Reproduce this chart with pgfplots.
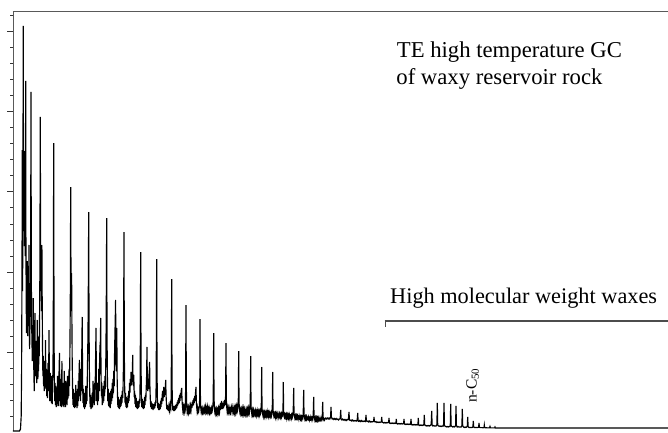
\documentclass[border=0pt]{standalone}
\usepackage{pgfplots}
\pgfplotsset{compat=1.18}
\usepackage{fontspec}
\setmainfont{Liberation Serif}
\begin{document}
\begin{tikzpicture}
\useasboundingbox (-13pt,-1pt) rectangle (655pt,431pt);
\begin{axis}[
  x=1pt, y=1pt,
  xmin=13, xmax=668, ymin=0, ymax=420,
  axis y line*=left, axis x line*=top,
  axis line style={-, draw=black!65, line width=0.9pt},
  xtick=\empty,
  ytick={78.58,158.93,239.28,319.63,399.98},
  minor ytick={14.3,30.37,46.44,62.51,94.65,110.72,126.79,142.86,175.0,191.07,207.14,223.21,255.35,271.42,287.49,303.56,335.7,351.77,367.84,383.91,416.05},
  yticklabels={},
  tick align=outside,
  major tick length=5.5pt, minor tick length=2.5pt,
  tick style={black!80, line width=0.6pt},
  clip=false,
]
\addplot[black, line width=1.15pt, line join=miter] coordinates {
(13,0) (19.5,0) (20.5,2) (21.2,15) (21.6,60) (22.0,160) (22.3,281) (22.6,140) (22.9,230) (23.1,330) (23.3,405) (23.5,250) (23.7,200) (23.9,260) (24.1,230) (24.3,280) (24.5,185) (24.7,240) (24.9,200) (25.1,255) (25.3,175) (25.5,230) (25.7,350) (25.9,200) (26.1,150) (26.3,120) (26.5,98) (26.7,140) (26.9,125) (27.2,170) (27.5,110) (27.8,95) (28.1,130) (28.4,105) (28.7,150) (29.0,186) (29.3,115) (29.6,82) (29.9,100) (30.3,125) (30.6,150) (31.0,339) (31.3,160) (31.6,110) (32.0,88) (32.3,70) (32.6,95) (33.0,75) (33.3,133) (33.6,80) (33.9,55) (34.3,40) (34.6,75) (35.0,118) (35.3,70) (35.6,55) (36.0,90) (36.3,62) (36.7,48) (37.0,80) (37.3,111) (37.6,70) (37.9,52) (38.3,82) (38.6,60) (39.0,95) (39.3,75) (39.6,120) (39.9,160) (40.3,314) (40.6,180) (40.9,140) (41.2,160) (41.5,120) (41.9,186) (42.2,130) (42.5,85) (42.9,55) (43.2,75) (43.6,45) (44.0,70) (44.3,40) (44.7,60) (45.1,42) (45.5,91) (45.9,45) (46.3,62) (46.7,35) (47.1,55) (47.5,33) (47.9,68) (48.3,40) (48.7,60) (49.0,101) (49.4,50) (49.8,30) (50.2,58) (50.6,30) (51.0,52) (51.4,28) (51.8,55) (52.2,27) (52.6,48) (53.0,62) (53.3,120) (53.7,288) (54.0,110) (54.3,55) (54.7,30) (55.1,48) (55.5,26) (55.9,45) (56.3,24) (56.7,42) (57.1,25) (57.5,55) (57.9,27) (58.3,48) (58.7,25) (59.1,62) (59.5,78) (59.9,30) (60.3,52) (60.7,25) (61.1,45) (61.5,24) (61.9,70) (62.3,32) (62.7,48) (63.1,25) (63.5,40) (63.9,24) (64.3,60) (64.7,28) (65.1,42) (65.5,24) (65.9,50) (66.3,28) (66.7,38) (67.1,26) (67.5,55) (67.9,32) (68.3,50) (68.7,35) (69.1,62) (69.5,45) (69.9,80) (70.3,130) (70.7,244) (71.0,150) (71.3,120) (71.6,158) (71.9,110) (72.2,70) (72.6,40) (73.0,26) (73.4,42) (73.8,24) (74.2,38) (74.6,23) (75.0,36) (75.4,24) (75.8,46) (76.2,26) (76.6,34) (77.0,23) (77.4,42) (77.8,25) (78.2,50) (78.6,30) (79.0,55) (79.4,71) (79.8,35) (80.2,60) (80.6,30) (81.0,62) (81.4,40) (81.8,80) (82.2,114) (82.6,50) (83.0,28) (83.4,42) (83.8,24) (84.2,38) (84.6,22) (85.0,35) (85.4,24) (85.8,45) (86.2,27) (86.6,40) (87.0,30) (87.4,60) (87.8,85) (88.2,120) (88.7,219) (89.0,110) (89.4,60) (89.8,35) (90.2,24) (90.6,36) (91.0,22) (91.4,34) (91.8,23) (92.2,38) (92.6,24) (93.0,50) (93.4,28) (93.8,42) (94.2,26) (94.6,48) (95.0,30) (95.4,60) (95.7,80) (96.0,103) (96.4,50) (96.8,30) (97.2,45) (97.6,26) (98.0,48) (98.4,30) (98.8,62) (99.2,40) (99.6,70) (100.0,85) (100.4,90) (100.7,113) (101.0,60) (101.4,35) (101.8,48) (102.2,26) (102.6,42) (103.0,28) (103.4,45) (103.8,30) (104.2,50) (104.6,35) (105.0,55) (105.4,42) (105.8,70) (106.2,110) (106.7,213) (107.0,100) (107.4,55) (107.8,30) (108.2,42) (108.6,25) (109.0,38) (109.4,24) (109.8,36) (110.2,23) (110.6,40) (111.0,27) (111.4,42) (111.8,30) (112.2,48) (112.6,33) (113.0,52) (113.4,38) (113.8,60) (114.2,45) (114.6,80) (115.0,100) (115.3,115) (115.6,131) (115.9,75) (116.2,60) (116.5,80) (116.8,103) (117.1,55) (117.5,35) (117.9,24) (118.3,34) (118.7,23) (119.1,32) (119.5,22) (119.9,30) (120.3,24) (120.7,34) (121.1,25) (121.5,36) (121.9,28) (122.3,40) (122.7,33) (123.1,45) (123.5,70) (124.0,199) (124.3,80) (124.7,42) (125.1,28) (125.5,38) (125.9,24) (126.3,34) (126.7,23) (127.1,32) (127.5,24) (127.9,35) (128.3,28) (128.7,40) (129.1,30) (129.5,48) (129.9,38) (130.3,52) (130.7,45) (131.0,59) (131.4,46) (131.8,55) (132.2,50) (132.5,65) (132.7,76) (133.0,50) (133.4,45) (133.8,56) (134.2,34) (134.6,40) (135.0,27) (135.4,36) (135.8,24) (136.2,33) (136.6,23) (137.0,30) (137.4,22) (137.8,28) (138.2,23) (138.6,30) (139.0,24) (139.4,32) (139.8,28) (140.2,55) (140.7,179) (141.0,70) (141.4,35) (141.8,24) (142.2,32) (142.6,23) (143.0,30) (143.4,22) (143.8,28) (144.2,23) (144.6,34) (145.0,26) (145.4,36) (145.8,30) (146.2,42) (146.6,55) (147.0,84) (147.3,50) (147.7,40) (148.1,48) (148.5,42) (148.9,55) (149.3,60) (149.6,69) (149.9,45) (150.3,32) (150.7,24) (151.1,30) (151.5,22) (151.9,28) (152.3,22) (152.7,27) (153.1,21) (153.5,26) (153.9,22) (154.3,27) (154.7,23) (155.1,29) (155.5,25) (155.9,32) (156.2,50) (156.7,172) (157.0,60) (157.4,32) (157.8,23) (158.2,28) (158.6,21) (159.0,26) (159.4,21) (159.8,27) (160.2,22) (160.6,30) (161.0,24) (161.4,33) (161.8,27) (162.2,36) (162.6,40) (163.0,30) (163.4,38) (163.8,44) (164.2,34) (164.6,40) (165.0,36) (165.4,45) (165.7,51) (166.0,38) (166.4,28) (166.8,22) (167.2,26) (167.6,21) (168.0,25) (168.4,20) (168.8,24) (169.2,21) (169.6,25) (170.0,22) (170.4,26) (170.8,24) (171.2,35) (171.7,152) (172.0,50) (172.4,28) (172.8,21) (173.2,25) (173.6,20) (174.0,24) (174.4,20) (174.8,25) (175.2,21) (175.6,26) (176.0,22) (176.4,27) (176.8,23) (177.2,29) (177.6,25) (178.0,31) (178.4,27) (178.8,33) (179.2,28) (179.6,36) (180.0,30) (180.4,38) (180.8,33) (181.2,40) (181.7,43) (182.0,32) (182.4,25) (182.8,21) (183.2,24) (183.6,20) (184.0,23) (184.4,20) (184.8,24) (185.2,22) (185.6,40) (186.0,126) (186.3,45) (186.7,25) (187.1,20) (187.5,23) (187.9,20) (188.3,23) (188.7,19) (189.1,22) (189.5,20) (189.9,24) (190.3,21) (190.7,25) (191.1,22) (191.5,27) (191.9,23) (192.3,29) (192.7,25) (193.1,31) (193.5,26) (193.9,33) (194.3,28) (194.7,35) (195.1,30) (195.5,38) (196.0,44) (196.3,30) (196.7,24) (197.1,20) (197.5,23) (197.9,20) (198.3,22) (198.7,20) (199.1,23) (199.5,25) (199.8,45) (200.0,112) (200.3,40) (200.7,24) (201.1,20) (201.5,22) (201.9,19) (202.3,22) (202.7,19) (203.1,21) (203.5,19) (203.9,22) (204.3,20) (204.7,23) (205.1,20) (205.5,24) (205.9,21) (206.3,25) (206.7,21) (207.1,24) (207.5,20) (207.9,23) (208.3,20) (208.7,22) (209.1,19) (209.5,22) (209.9,19) (210.3,21) (210.7,19) (211.1,22) (211.5,20) (211.9,23) (212.3,21) (212.7,24) (213.2,30) (213.7,98) (214.0,35) (214.4,22) (214.8,19) (215.2,21) (215.6,18) (216.0,21) (216.4,18) (216.8,21) (217.2,18) (217.6,21) (218.0,19) (218.4,22) (218.8,19) (219.2,23) (219.6,20) (220.0,25) (220.4,21) (220.8,28) (221.2,22) (221.6,30) (222.0,23) (222.4,27) (222.8,22) (223.2,28) (223.6,23) (224.0,30) (224.4,25) (224.8,31) (225.2,26) (225.6,35) (226.0,88) (226.3,32) (226.7,24) (227.1,20) (227.5,23) (227.9,20) (228.3,23) (228.7,20) (229.1,24) (229.5,20) (229.9,23) (230.3,20) (230.7,24) (231.1,20) (231.5,23) (231.9,19) (232.3,23) (232.7,20) (233.1,24) (233.5,20) (233.9,23) (234.3,19) (234.7,22) (235.1,19) (235.5,23) (235.9,20) (236.3,24) (236.7,21) (237.1,24) (237.5,21) (237.9,24) (238.3,30) (238.7,80) (239.0,30) (239.4,22) (239.8,19) (240.2,21) (240.6,18) (241.0,21) (241.4,18) (241.8,21) (242.2,18) (242.6,22) (243.0,19) (243.4,22) (243.8,18) (244.2,21) (244.6,18) (245.0,21) (245.4,18) (245.8,22) (246.2,18) (246.6,21) (247.0,18) (247.4,21) (247.8,18) (248.2,22) (248.6,19) (249.0,22) (249.4,19) (249.8,23) (250.2,25) (250.7,75) (251.0,26) (251.4,20) (251.8,17) (252.2,20) (252.6,17) (253.0,20) (253.4,17) (253.8,20) (254.2,17) (254.6,19) (255.0,17) (255.4,20) (255.8,17) (256.2,19) (256.6,16) (257.0,19) (257.4,17) (257.8,20) (258.2,17) (258.6,19) (259.0,16) (259.4,19) (259.8,17) (260.2,20) (260.6,18) (261.0,20) (261.3,26) (261.7,64) (262.0,24) (262.4,18) (262.8,16) (263.2,18) (263.6,15) (264.0,18) (264.4,15) (264.8,18) (265.2,16) (265.6,18) (266.0,15) (266.4,18) (266.8,16) (267.2,19) (267.6,16) (268.0,18) (268.4,15) (268.8,18) (269.2,16) (269.6,18) (270.0,15) (270.4,17) (270.8,15) (271.2,18) (271.6,16) (272.0,19) (272.3,24) (272.7,59) (273.0,22) (273.4,17) (273.8,15) (274.2,17) (274.6,15) (275.0,17) (275.4,14) (275.8,17) (276.2,15) (276.6,17) (277.0,14) (277.4,17) (277.8,15) (278.2,16) (278.6,14) (279.0,17) (279.4,15) (279.8,17) (280.2,14) (280.6,16) (281.0,14) (281.4,17) (281.8,15) (282.2,17) (282.6,16) (283.0,21) (283.3,49) (283.6,20) (284.0,16) (284.4,14) (284.8,16) (285.2,14) (285.6,16) (286.0,14) (286.4,16) (286.8,13) (287.2,16) (287.6,14) (288.0,16) (288.4,13) (288.8,15) (289.2,13) (289.6,16) (290.0,14) (290.4,15) (290.8,13) (291.2,15) (291.6,13) (292.0,16) (292.4,14) (292.8,16) (293.2,19) (293.7,43) (294.0,18) (294.4,15) (294.8,13) (295.2,15) (295.6,13) (296.0,15) (296.4,13) (296.8,15) (297.2,13) (297.6,15) (298.0,13) (298.4,14) (298.8,12) (299.2,15) (299.6,13) (300.0,14) (300.4,12) (300.8,14) (301.2,12) (301.6,14) (302.0,12) (302.4,14) (302.8,13) (303.2,17) (303.7,41) (304.0,17) (304.4,14) (304.8,12) (305.2,14) (305.6,12) (306.0,14) (306.4,12) (306.8,14) (307.2,12) (307.6,13) (308.0,12) (308.4,14) (308.8,12) (309.2,13) (309.6,11) (310.0,13) (310.4,12) (310.8,14) (311.2,12) (311.6,13) (312.0,11) (312.4,13) (312.8,12) (313.2,16) (313.7,34) (314.0,16) (314.4,13) (314.8,11) (315.2,13) (315.6,11) (316.0,13) (316.4,11) (316.8,13) (317.2,11) (317.6,13) (318.0,11) (318.4,13) (318.8,11) (319.2,12) (319.6,11) (320.0,13) (320.4,11) (320.8,12) (321.2,11) (321.6,13) (322.0,12) (322.3,16) (322.7,29) (323.0,15) (323.4,12) (323.8,11) (324.2,12) (324.6,11) (325.0,12)
(325.8,13) (326.6,12) (327.4,13) (328.2,12) (329.0,13) (329.8,12) (330.6,14) (331.0,24) (331.4,14) (332.2,12) (333.0,12.5) (333.8,11.5) (334.6,12.5) (335.4,11.5) (336.2,12.5) (337.0,11.5) (337.8,12) (338.6,11) (339.4,12) (340.2,12.5) (340.7,21) (341.1,12) (341.9,11) (342.7,12) (343.5,11) (344.3,11.5) (345.1,10.5) (345.9,11.5) (346.7,10.5) (347.5,11.5) (348.4,11.5) (349.0,19) (349.4,11) (350.2,10.5) (351.0,11) (351.8,10) (352.6,11) (353.4,10) (354.2,10.5) (355.0,10) (355.8,10.5) (356.6,10) (357.2,11) (357.7,18) (358.1,10) (358.9,9.5) (359.7,10.5) (360.5,9.5) (361.3,10.5) (362.1,9.5) (362.9,10) (363.7,9.5) (364.5,10) (365.3,9.5) (365.6,10.5) (366.0,16) (366.4,10) (367.2,9.5) (368.0,10) (368.8,9) (369.6,10) (370.4,9) (371.2,9.5) (372.0,9) (372.8,9.5) (373.6,9.5) (374.0,14) (374.4,9.5) (375.2,9) (376.0,9.5) (376.8,8.5) (377.6,9) (378.4,8.5) (379.2,9) (380.0,8.5) (380.8,9) (381.3,9) (381.7,14) (382.1,9) (382.9,8.5) (383.7,8) (384.5,8.5) (385.3,8) (386.1,8.5) (386.9,8) (387.7,8.5) (388.6,8.5) (389.0,13) (389.4,8) (390.2,7.5) (391.0,8) (391.8,7.5) (392.6,8) (393.4,7.5) (394.2,8) (395.0,7.5) (395.9,8) (396.3,12) (396.7,7.5) (397.5,7) (398.3,7.5) (399.1,7) (399.9,7.5) (400.7,7) (401.5,7.5) (402.3,7) (403.6,7.5) (404.0,12) (404.4,7) (405.2,6.5) (406.0,7) (406.8,6.5) (407.6,7) (408.4,6.5) (409.2,7) (410.0,6.5) (410.6,7) (411.0,12) (411.4,6.5) (412.2,6) (413.0,6.5) (413.8,6) (414.6,6.5) (415.4,6) (416.2,6.5) (417.0,6) (417.9,6.5) (418.3,13) (418.7,6) (419.5,5.5) (420.3,6) (421.1,5.5) (421.9,6) (422.7,5.5) (423.5,6) (423.9,7) (424.3,16) (424.7,6) (425.5,5.5) (426.3,5) (427.1,5.5) (427.9,5) (428.7,5.5) (429.5,5) (430.3,5.5) (431.2,6.5) (431.7,20) (432.1,6) (432.9,5) (433.7,5.5) (434.5,5) (435.3,5) (436.1,5) (436.9,6.5) (437.3,28) (437.7,6) (438.5,5) (439.3,5) (440.1,4.5) (440.9,5) (441.7,4.5) (442.5,5) (443.3,5) (443.6,7) (444.0,28) (444.4,6) (445.2,4.5) (446.0,4.5) (446.8,4) (447.6,4.5) (448.4,4) (449.2,4.5) (450.0,4.5) (450.3,6.5) (450.7,27) (451.1,5.5) (451.9,4.5) (452.7,4) (453.5,4.5) (454.3,4) (455.1,4.5) (455.6,6) (456.0,25) (456.4,5.5) (457.2,4) (458.0,4.5) (458.8,4) (459.6,4) (460.4,4) (461.2,4) (461.9,5.5) (462.3,22) (462.7,5) (463.5,4) (464.3,3.5) (465.1,4) (465.9,3.5) (466.7,4) (467.3,5) (467.7,14) (468.1,4.5) (468.9,3.5) (469.7,3.5) (470.5,3.5) (471.3,3.5) (472.1,3.5) (472.9,4) (473.3,10) (473.7,4) (474.5,3.5) (475.3,3.5) (476.1,3.5) (476.9,3.5) (477.7,3.5) (478.6,3.8) (479.0,8) (479.4,3.8) (480.2,3.4) (481.0,3.4) (481.8,3.4) (482.6,3.3) (483.4,3.3) (484.0,3.6) (484.3,6) (484.6,3.5) (485.4,3.2) (486.2,3.2) (487.0,3.2) (487.8,3.1) (488.6,3.1) (489.6,3.3) (490.0,4.5) (490.4,3.2) (492,3.1) (494.6,3.1) (495,4) (495.4,3) (500,3) (668,3)
};
\node[anchor=base west, inner sep=0pt, font=\fontsize{22.7}{26}\selectfont] at (axis cs:396.7,373.5) {TE high temperature GC};
\node[anchor=base west, inner sep=0pt, font=\fontsize{22.7}{26}\selectfont] at (axis cs:396.2,346.7) {of waxy reservoir rock};
\node[anchor=base west, inner sep=0pt, font=\fontsize{22.3}{26}\selectfont] at (axis cs:390,127.7) {High molecular weight waxes};
\node[anchor=base west, inner sep=0pt, rotate=90, font=\fontsize{15.5}{18}\selectfont] at (axis cs:476.5,28) {n-C\textsubscript{50}};
\draw[black!70, line width=2pt] (axis cs:384.5,110.3) -- (axis cs:668,110.3);
\draw[black!70, line width=1.2pt] (axis cs:385.2,111) -- (axis cs:385.2,104);
\end{axis}
\end{tikzpicture}
\end{document}
